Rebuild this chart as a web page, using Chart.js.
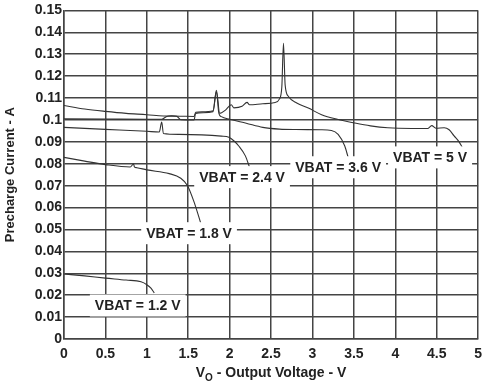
<!DOCTYPE html>
<html>
<head>
<meta charset="utf-8">
<script src="https://cdn.jsdelivr.net/npm/chart.js@4"></script>
<style>
  body { margin: 0; background: #fff; }
</style>
</head>
<body>
<canvas id="chargeChart" width="489" height="389"></canvas>
<script>
// precharge current vs output voltage, one curve per battery voltage

const vbatNames = ['VBAT = 1.2 V', 'VBAT = 1.8 V', 'VBAT = 2.4 V', 'VBAT = 3.6 V', 'VBAT = 5 V'];

const vo12 = [0, 0.25, 0.5, 0.75, 0.93, 1.0, 1.05, 1.09];
const cur12 = [0.0297, 0.0288, 0.0278, 0.0269, 0.0261, 0.0248, 0.0232, 0.021];

const vo18 = [0, 0.25, 0.5, 0.8, 0.84, 0.85, 0.88, 1.0, 1.27, 1.41, 1.49, 1.57, 1.65];
const cur18 = [0.0829, 0.0812, 0.0796, 0.0785, 0.0799, 0.0786, 0.0782, 0.0772, 0.0755, 0.0734, 0.0701, 0.0626, 0.053];

const vo24 = [0, 0.5, 1.0, 1.15, 1.18, 1.2, 1.39, 1.9, 1.99, 2.05, 2.11, 2.19, 2.24];
const cur24 = [0.0966, 0.0957, 0.0948, 0.0945, 0.099, 0.0938, 0.0934, 0.0926, 0.0921, 0.0905, 0.0881, 0.0836, 0.0784];

const vo36 = [0, 0.5, 1.0, 1.18, 1.24, 1.3, 1.36, 1.41, 1.57, 1.59, 1.8, 1.84, 1.87, 1.9, 2.0, 2.2, 2.4, 2.6, 2.8, 3.1, 3.23, 3.31, 3.39, 3.43];
const cur36 = [0.1005, 0.1004, 0.1003, 0.1003, 0.1016, 0.1019, 0.1017, 0.1001, 0.1000, 0.1030, 0.1038, 0.1130, 0.1030, 0.1015, 0.1003, 0.0985, 0.0966, 0.0958, 0.0956, 0.0955, 0.0952, 0.0934, 0.0881, 0.083];

const vo50 = [0, 0.25, 0.5, 0.75, 1.0, 1.2, 1.4, 1.57, 1.59, 1.8, 1.84, 1.88, 1.95, 2.02, 2.05, 2.15, 2.21, 2.24, 2.4, 2.55, 2.6, 2.63, 2.65, 2.67, 2.71, 2.81, 2.95, 3.11, 3.3, 3.51, 3.7, 3.91, 4.2, 4.39, 4.44, 4.49, 4.59, 4.65, 4.71, 4.77, 4.81];
const cur50 = [0.1066, 0.1050, 0.1039, 0.1030, 0.1024, 0.1018, 0.1017, 0.1016, 0.1035, 0.1042, 0.1135, 0.1030, 0.1045, 0.1069, 0.1055, 0.1062, 0.1080, 0.1069, 0.1074, 0.1080, 0.1095, 0.1150, 0.1350, 0.1160, 0.1107, 0.1077, 0.1054, 0.1024, 0.1003, 0.0986, 0.0973, 0.0964, 0.0961, 0.0961, 0.0974, 0.0962, 0.0964, 0.0955, 0.0927, 0.0900, 0.0874];

const voSets = [vo12, vo18, vo24, vo36, vo50];
const curSets = [cur12, cur18, cur24, cur36, cur50];

const FONT = "'Liberation Sans', Arial, sans-serif";
const INK = '#222';
const GRID = '#444';

// curve labels with white boxes, anchored in data coordinates
const curveLabels = {
    id: 'curveLabels',
    afterDatasetsDraw(chart, args, opts) {
        const ctx = chart.ctx;
        const xs = chart.scales.x, ys = chart.scales.y;
        ctx.save();
        ctx.font = 'bold 14px ' + FONT;
        ctx.textAlign = 'center';
        ctx.textBaseline = 'middle';
        opts.items.forEach((item, i) => {
            const px = xs.getPixelForValue(item.x);
            const py = ys.getPixelForValue(item.y);
            const w = ctx.measureText(vbatNames[i]).width + 10;
            ctx.fillStyle = '#fff';
            ctx.fillRect(px - w / 2, py - 11, w, 22);
            ctx.fillStyle = INK;
            ctx.fillText(vbatNames[i], px, py + 1);
        });
        ctx.restore();
    }
};

// x axis title with subscript O
const xTitle = {
    id: 'xTitle',
    afterDraw(chart) {
        const ctx = chart.ctx;
        const area = chart.chartArea;
        ctx.save();
        ctx.fillStyle = INK;
        ctx.textBaseline = 'alphabetic';
        ctx.textAlign = 'left';
        const big = 'bold 14px ' + FONT, small = 'bold 10px ' + FONT;
        const rest = ' - Output Voltage - V';
        ctx.font = big;
        const wV = ctx.measureText('V').width, wRest = ctx.measureText(rest).width;
        ctx.font = small;
        const wO = ctx.measureText('O').width;
        let x = (area.left + area.right) / 2 - (wV + wO + wRest) / 2;
        const base = 377;
        ctx.font = big;
        ctx.fillText('V', x, base);
        x += wV;
        ctx.font = small;
        ctx.fillText('O', x, base + 4);
        x += wO;
        ctx.font = big;
        ctx.fillText(rest, x, base);
        ctx.restore();
    }
};

const ctx = document.getElementById('chargeChart').getContext('2d');
new Chart(ctx, {
    type: 'line',
    data: {
        datasets: voSets.map((vo, k) => ({
            label: vbatNames[k],
            data: vo.map((v, j) => ({ x: v, y: curSets[k][j] })),
            borderColor: '#333',
            borderWidth: 1.1,
            pointRadius: 0,
            fill: false,
            cubicInterpolationMode: 'monotone'
        }))
    },
    options: {
        responsive: false,
        animation: false,
        layout: { padding: { top: 6, right: 8, left: 0, bottom: 0 } },
        plugins: {
            legend: { display: false },
            tooltip: { enabled: false },
            curveLabels: {
                items: [
                    { x: 0.89, y: 0.0153 },
                    { x: 1.51, y: 0.0483 },
                    { x: 2.15, y: 0.0739 },
                    { x: 3.31, y: 0.0784 },
                    { x: 4.42, y: 0.0829 }
                ]
            }
        },
        scales: {
            x: {
                type: 'linear',
                min: 0,
                max: 5,
                afterFit(scale) { scale.height = 50; },
                grid: { color: GRID, lineWidth: 1.5, drawTicks: false },
                border: { color: GRID, width: 1.5 },
                ticks: {
                    stepSize: 0.5,
                    padding: 7,
                    maxRotation: 0,
                    autoSkip: false,
                    color: INK,
                    font: { family: FONT, size: 14, weight: 'bold' },
                    callback: v => String(Number(v.toFixed(1)))
                }
            },
            y: {
                min: 0,
                max: 0.15,
                afterFit(scale) { scale.width = 64; },
                grid: { color: GRID, lineWidth: 1.5, drawTicks: false },
                border: { color: GRID, width: 1.5 },
                title: {
                    display: true,
                    text: 'Precharge Current - A',
                    color: INK,
                    padding: { top: 3, bottom: 0 },
                    font: { family: FONT, size: 13, weight: 'bold' }
                },
                ticks: {
                    stepSize: 0.01,
                    padding: 2,
                    autoSkip: false,
                    color: INK,
                    font: { family: FONT, size: 14, weight: 'bold' },
                    callback: v => String(Number(v.toFixed(2)))
                }
            }
        }
    },
    plugins: [curveLabels, xTitle]
});
</script>
</body>
</html>
